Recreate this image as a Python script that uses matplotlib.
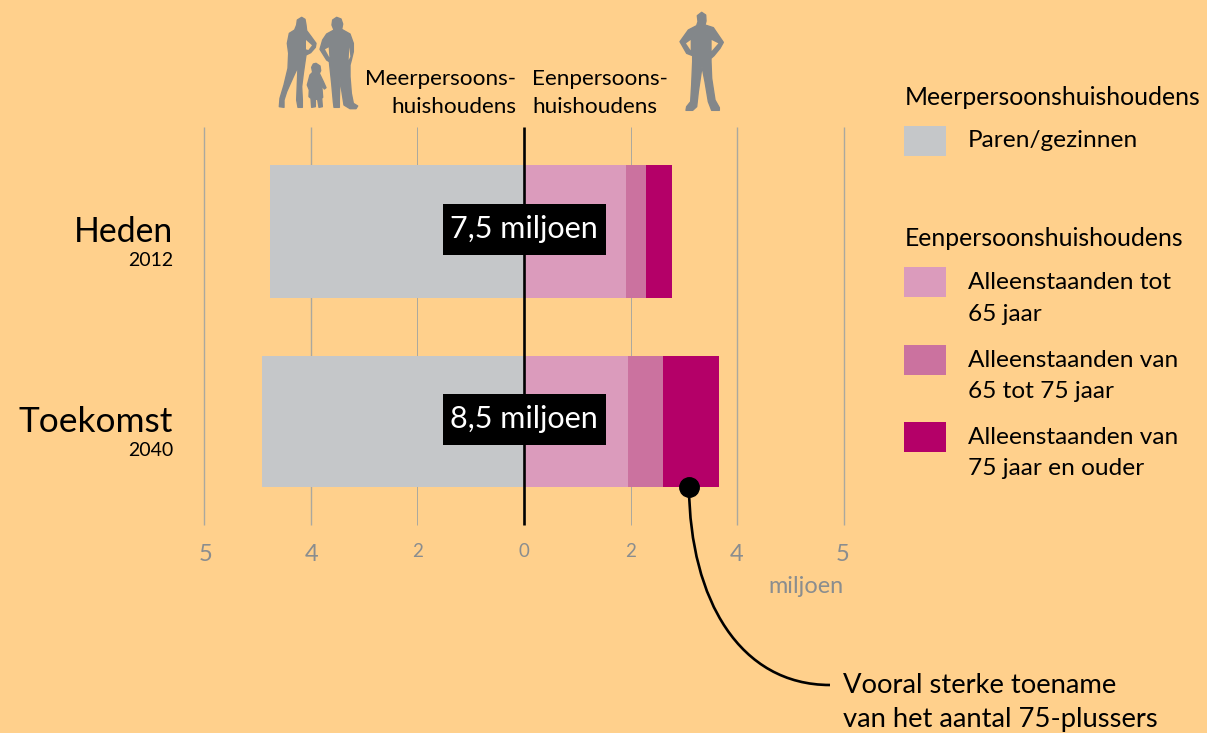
import matplotlib as mpl
mpl.use('Agg')
import matplotlib.pyplot as plt
from matplotlib.patches import Polygon, Rectangle, PathPatch
from matplotlib.path import Path

plt.rcParams['font.family'] = ['Lato', 'DejaVu Sans']

# Data (miljoen huishoudens)
periods = ['Heden', 'Toekomst']
years = ['2012', '2040']
totals = ['7,5 miljoen', '8,5 miljoen']
paren = [4.75, 4.90]
tot_65 = [1.92, 1.96]
van_65_75 = [0.36, 0.65]
van_75 = [0.50, 1.05]
tick_pos = [-6, -4, -2, 0, 2, 4, 6]
tick_labels = ['5', '4', '2', '0', '2', '4', '5']

BG = '#ffd08c'
GREY = '#c5c7c9'
PINK1 = '#db9bbc'
PINK2 = '#cb729f'
PINK3 = '#b40068'
SIL = '#83878a'
TICK = '#8a8d8f'
GRID = '#aaa89f'

PER_UNIT = 53.35
ZERO = 523.9


def px(x):
    return (x - ZERO) / PER_UNIT


fig = plt.figure(figsize=(12.07, 7.33), dpi=100, facecolor=BG)
ax = fig.add_axes([0, 0, 1, 1])
ax.set_xlim(px(0), px(1207))
ax.set_ylim(733, 0)
ax.axis('off')

# Gridlines
for t in tick_pos:
    if t != 0:
        ax.vlines(t, 127, 525, color=GRID, lw=0.7 if abs(t) == 2 else 1.0, zorder=1)

# Bars
y_pos = [231.5, 421.5]
heights = [133, 131]
left_1 = tot_65
left_2 = [a + b for a, b in zip(tot_65, van_65_75)]
ax.barh(y_pos, [-v for v in paren], height=heights, color=GREY, zorder=2)
ax.barh(y_pos, tot_65, height=heights, color=PINK1, zorder=2)
ax.barh(y_pos, van_65_75, left=left_1, height=heights, color=PINK2, zorder=2)
ax.barh(y_pos, van_75, left=left_2, height=heights, color=PINK3, zorder=2)
ax.vlines(0, 127, 525, color='black', lw=1.9, zorder=3)

# Total labels
for y, s in zip(y_pos, totals):
    ax.add_patch(Rectangle((px(443), y - 27.5), px(606) - px(443), 51, color='black', lw=0, zorder=4))
    ax.text(px(524), y - 2.5, s, color='white', fontsize=22, ha='center', va='center', zorder=5)

# Period labels
for y, name, yr, size in zip(y_pos, periods, years, [24.3, 25.4]):
    ax.text(px(173), y + 11, name, fontsize=size, ha='right', va='baseline')
    ax.text(px(173), y + 35, yr, fontsize=14, ha='right', va='baseline')

# Tick labels, 2 and 0 are small figures, 4 and 5 hang lower
for t, s in zip(tick_pos, tick_labels):
    big = s in ('4', '5')
    ax.text(t * 0.996, 561 if big else 557, s, color=TICK, ha='center', va='baseline',
            fontsize=17 if big else 13.5)
ax.text(px(844), 593, 'miljoen', color=TICK, fontsize=16.9, ha='right', va='baseline')

# Column headings
ax.text(px(516), 85, 'Meerpersoons-', fontsize=16.2, ha='right', va='baseline')
ax.text(px(516), 113, 'huishoudens', fontsize=16.2, ha='right', va='baseline')
ax.text(px(532), 85, 'Eenpersoons-', fontsize=16.2, ha='left', va='baseline')
ax.text(px(532), 113, 'huishoudens', fontsize=16.2, ha='left', va='baseline')

# Legend
ax.text(px(905), 105, 'Meerpersoonshuishoudens', fontsize=17.8, va='baseline')
ax.text(px(905), 246, 'Eenpersoonshuishoudens', fontsize=17.8, va='baseline')
swatches = [(126, GREY), (267, PINK1), (345, PINK2), (422, PINK3)]
for top, col in swatches:
    ax.add_patch(Rectangle((px(904), top), px(946) - px(904), 30, color=col, lw=0))
legend_lines = [(147, 'Paren/gezinnen'),
                (289, 'Alleenstaanden tot'), (321, '65 jaar'),
                (367, 'Alleenstaanden van'), (398, '65 tot 75 jaar'),
                (444, 'Alleenstaanden van'), (475, '75 jaar en ouder')]
for y, s in legend_lines:
    ax.text(px(968), y, s, fontsize=17.6, va='baseline')

# Callout
verts = [(px(689), 487), (px(690), 600), (px(740), 685), (px(830), 685)]
curve = Path(verts, [Path.MOVETO, Path.CURVE4, Path.CURVE4, Path.CURVE4])
ax.add_patch(PathPatch(curve, fc='none', ec='black', lw=1.9, zorder=6))
ax.plot([px(689)], [487], 'o', color='black', ms=14, zorder=7)
ax.text(px(843), 693, 'Vooral sterke toename', fontsize=19.7, va='baseline')
ax.text(px(843), 727, 'van het aantal 75-plussers', fontsize=19.7, va='baseline')

# Silhouettes, outlines traced in pixels of the picture
woman = [(95, 22), (105, 28), (108, 45), (110, 62), (122, 78), (138, 100), (136, 112), (122, 128), (108, 135),
         (105, 155), (100, 190), (95, 230), (97, 270), (97, 292), (84, 292), (80, 270), (82, 220), (84, 170),
         (70, 200), (50, 245), (42, 270), (42, 292), (28, 290), (30, 265), (42, 225), (54, 175), (56, 130),
         (52, 100), (58, 70), (74, 60), (80, 45), (82, 30)]
man = [(200, 22), (213, 27), (218, 42), (215, 58), (240, 72), (250, 100), (250, 125), (244, 150), (240, 165),
       (240, 200), (244, 250), (250, 280), (263, 288), (258, 296), (240, 296), (222, 285), (215, 240), (210, 205),
       (208, 270), (208, 292), (192, 292), (190, 275), (185, 220), (178, 155), (170, 150), (150, 118), (158, 90),
       (170, 72), (192, 60), (186, 45), (188, 30)]
child = [(138, 160), (150, 168), (152, 182), (148, 190), (160, 215), (168, 233), (163, 237), (155, 225), (158, 262),
         (155, 265), (157, 290), (147, 292), (143, 268), (136, 268), (136, 290), (125, 292), (123, 265), (117, 260),
         (118, 240), (112, 225), (120, 195), (128, 187), (125, 172), (130, 162)]
holes_family = [[(108, 90), (126, 106), (115, 120), (108, 118)], [(165, 118), (176, 112), (178, 142)],
                [(238, 112), (241, 140), (236, 150)]]
single = [(95, 22), (107, 30), (108, 48), (105, 60), (130, 68), (160, 112), (150, 130), (132, 152), (123, 160),
          (123, 170), (125, 220), (135, 285), (148, 308), (148, 316), (125, 316), (115, 290), (105, 230), (96, 185),
          (85, 260), (80, 305), (68, 316), (48, 316), (50, 305), (62, 290), (65, 240), (68, 170), (68, 152),
          (50, 145), (30, 110), (55, 75), (80, 62), (84, 50), (82, 32)]
holes_single = [[(62, 105), (62, 136), (48, 115)], [(125, 105), (145, 115), (125, 138)]]


def to_data(points, x0, y0):
    return [(px(x0 + a / 3), y0 + b / 3) for a, b in points]


for shape in (woman, man, child):
    ax.add_patch(Polygon(to_data(shape, 270, 10), fc=SIL, ec=SIL, lw=1.0, joinstyle='round', zorder=2))
for shape in holes_family:
    ax.add_patch(Polygon(to_data(shape, 270, 10), color=BG, lw=0, zorder=3))
ax.add_patch(Polygon(to_data(single, 670, 5), fc=SIL, ec=SIL, lw=1.0, joinstyle='round', zorder=2))
for shape in holes_single:
    ax.add_patch(Polygon(to_data(shape, 670, 5), color=BG, lw=0, zorder=3))

fig.savefig('out.png', dpi=100, facecolor=BG)
